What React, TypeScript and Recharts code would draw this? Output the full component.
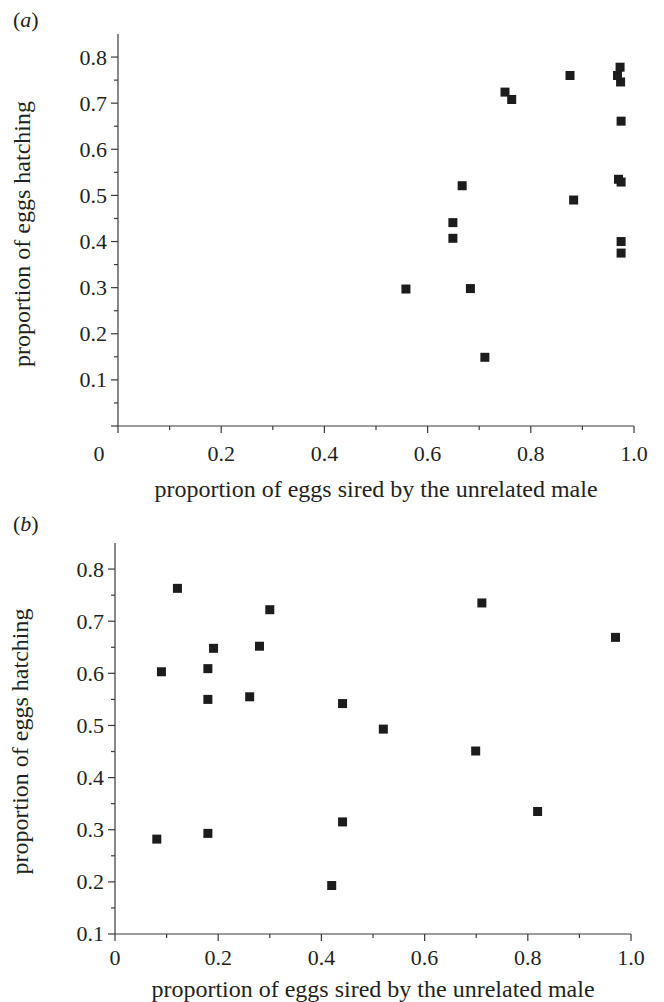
import { ScatterChart, Scatter, XAxis, YAxis } from "recharts"

// panel (a): proportion sired by unrelated male vs proportion hatching
const siredA = [0.558, 0.649, 0.649, 0.667, 0.683, 0.711, 0.750, 0.763, 0.876, 0.883, 0.973, 0.968, 0.974, 0.975, 0.970, 0.975, 0.975, 0.975]
const hatchA = [0.297, 0.441, 0.407, 0.521, 0.298, 0.149, 0.724, 0.708, 0.760, 0.490, 0.778, 0.760, 0.746, 0.661, 0.535, 0.529, 0.400, 0.375]

// panel (b)
const siredB = [0.121, 0.300, 0.711, 0.970, 0.191, 0.280, 0.090, 0.180, 0.180, 0.261, 0.441, 0.520, 0.699, 0.819, 0.441, 0.081, 0.180, 0.420]
const hatchB = [0.763, 0.722, 0.735, 0.669, 0.648, 0.652, 0.603, 0.609, 0.550, 0.555, 0.542, 0.493, 0.451, 0.335, 0.315, 0.282, 0.293, 0.193]

const xTicks = [0, 0.1, 0.2, 0.3, 0.4, 0.5, 0.6, 0.7, 0.8, 0.9, 1.0]
const xMajor = [0, 0.2, 0.4, 0.6, 0.8, 1.0]
const xLabels = ["0", "0.2", "0.4", "0.6", "0.8", "1.0"]

const yTicksA = [0, 0.05, 0.1, 0.15, 0.2, 0.25, 0.3, 0.35, 0.4, 0.45, 0.5, 0.55, 0.6, 0.65, 0.7, 0.75, 0.8]
const yTicksB = [0.1, 0.15, 0.2, 0.25, 0.3, 0.35, 0.4, 0.45, 0.5, 0.55, 0.6, 0.65, 0.7, 0.75, 0.8]
const yMajor = [0, 0.1, 0.2, 0.3, 0.4, 0.5, 0.6, 0.7, 0.8]
const yLabels = ["", "0.1", "0.2", "0.3", "0.4", "0.5", "0.6", "0.7", "0.8"]

const X_TITLE = "proportion of eggs sired by the unrelated male"
const Y_TITLE = "proportion of eggs hatching"

const FONT = "'Liberation Serif', 'Times New Roman', serif"
const INK = "#231f20"
const AXIS = "#3a3a3a"

const dataA = siredA.map((x, i) => ({ x, y: hatchA[i] }))
const dataB = siredB.map((x, i) => ({ x, y: hatchB[i] }))

const findMajor = (list: number[], v: number) => list.findIndex((m) => Math.abs(m - v) < 1e-6)

function XTick(props: any) {
  const { x, y, payload, labelDy, zeroShift } = props
  const i = findMajor(xMajor, payload.value)
  const len = i >= 0 ? 7 : 4
  return (
    <g>
      <line x1={x} y1={y} x2={x} y2={y + len} stroke={AXIS} strokeWidth={1.2} />
      {i >= 0 && (
        <text x={x + (payload.value === 0 ? zeroShift : 0)} y={y + labelDy} textAnchor="middle"
          fontFamily={FONT} fontSize={22} fill={INK}>
          {xLabels[i]}
        </text>
      )}
    </g>
  )
}

function YTick(props: any) {
  const { x, y, payload } = props
  const i = findMajor(yMajor, payload.value)
  const len = i >= 0 ? 7 : 4
  return (
    <g>
      <line x1={x} y1={y} x2={x - len} y2={y} stroke={AXIS} strokeWidth={1.2} />
      {i >= 0 && yLabels[i] !== "" && (
        <text x={x - 11} y={y} dy="0.34em" textAnchor="end" fontFamily={FONT} fontSize={22} fill={INK}>
          {yLabels[i]}
        </text>
      )}
    </g>
  )
}

// rotated y title, baseline at a fixed distance from the chart's left edge
function YTitle(props: any) {
  const { viewBox, baseX, shiftY } = props
  const cx = viewBox.x + baseX
  const cy = viewBox.y + viewBox.height / 2 + shiftY
  return (
    <text x={cx} y={cy} transform={`rotate(-90, ${cx}, ${cy})`} textAnchor="middle"
      fontFamily={FONT} fontSize={24} fill={INK}>
      {Y_TITLE}
    </text>
  )
}

const Square = (p: any) => <rect x={p.cx - 4.5} y={p.cy - 4.5} width={9} height={9} fill="#1c1c1c" />

const titleStyle = { fontFamily: FONT, fontSize: 24, fill: INK }

function Panel(props: {
  data: { x: number; y: number }[]
  height: number
  margin: { top: number; right: number; bottom: number; left: number }
  yWidth: number
  xHeight: number
  yDomain: [number, number]
  yTicks: number[]
  labelDy: number
  zeroShift: number
  titleOffset: number
  yTitleX: number
  yTitleShift: number
}) {
  return (
    <ScatterChart width={664} height={props.height} margin={props.margin}>
      <XAxis type="number" dataKey="x" domain={[0, 1]} ticks={xTicks} interval={0}
        height={props.xHeight} tickSize={0} tickMargin={0} tickLine={false}
        axisLine={{ stroke: AXIS, strokeWidth: 1.2 }}
        tick={(t: any) => <XTick {...t} labelDy={props.labelDy} zeroShift={props.zeroShift} />}
        label={{ value: X_TITLE, position: "insideBottom", offset: props.titleOffset, style: titleStyle }} />
      <YAxis type="number" dataKey="y" domain={props.yDomain} ticks={props.yTicks} interval={0}
        width={props.yWidth} tickSize={0} tickMargin={0} tickLine={false}
        axisLine={{ stroke: AXIS, strokeWidth: 1.2 }}
        tick={(t: any) => <YTick {...t} />}
        label={{ value: Y_TITLE, content: (l: any) => <YTitle {...l} baseX={props.yTitleX} shiftY={props.yTitleShift} /> }} />
      <Scatter data={props.data} shape={Square} isAnimationActive={false} />
    </ScatterChart>
  )
}

const panelTag = { position: "absolute" as const, left: 13, fontFamily: FONT, fontSize: 22, lineHeight: 1, color: INK }

export default function App() {
  return (
    <div style={{ position: "absolute", left: 0, top: 0, width: 664, height: 1002, background: "#fff" }}>
      <div style={{ position: "absolute", left: 0, top: 0 }}>
        <Panel data={dataA} height={510} margin={{ top: 34, right: 30, bottom: 0, left: 0 }}
          yWidth={118} xHeight={84} yDomain={[0, 0.85]} yTicks={yTicksA}
          labelDy={35} zeroShift={-19} titleOffset={13} yTitleX={30} yTitleShift={4} />
      </div>
      <div style={{ position: "absolute", left: 0, top: 500 }}>
        <Panel data={dataB} height={502} margin={{ top: 43, right: 33, bottom: 0, left: 0 }}
          yWidth={115} xHeight={68} yDomain={[0.1, 0.85]} yTicks={yTicksB}
          labelDy={31} zeroShift={0} titleOffset={5} yTitleX={28} yTitleShift={3} />
      </div>
      <div style={{ ...panelTag, top: 9 }}>(<i>a</i>)</div>
      <div style={{ ...panelTag, top: 513 }}>(<i>b</i>)</div>
    </div>
  )
}
